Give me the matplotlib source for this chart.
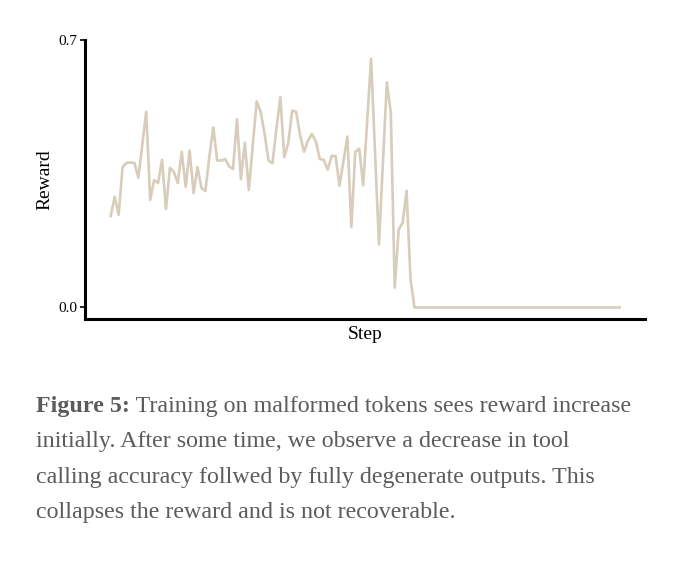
import matplotlib
matplotlib.use("Agg")
import matplotlib.pyplot as plt

# reward per step
rewardEarly = [0.240, 0.290, 0.243, 0.368, 0.379, 0.380, 0.379, 0.340, 0.426, 0.513,
               0.282, 0.334, 0.326, 0.387, 0.258, 0.366, 0.355, 0.326, 0.408, 0.316,
               0.411, 0.300, 0.368, 0.313, 0.305, 0.395, 0.472, 0.385, 0.385, 0.389,
               0.370, 0.363, 0.493, 0.336, 0.432, 0.308, 0.423, 0.540, 0.513, 0.455,
               0.385, 0.378, 0.468, 0.551, 0.394, 0.431, 0.516, 0.513, 0.452, 0.408,
               0.437, 0.455, 0.435, 0.389, 0.387, 0.361, 0.397, 0.397, 0.319, 0.384,
               0.448, 0.211, 0.408, 0.416, 0.320, 0.486, 0.652, 0.408, 0.165, 0.379,
               0.590, 0.511, 0.052, 0.204, 0.222, 0.306, 0.075]
rewardCollapsed = [0.0] * 53
reward = rewardEarly + rewardCollapsed
steps = list(range(len(reward)))

yTicks = [0.0, 0.7]
yTickLabels = ["0.0", "0.7"]

captionBold = "Figure 5:"
captionLines = [" Training on malformed tokens sees reward increase",
                "initially. After some time, we observe a decrease in tool",
                "calling accuracy follwed by fully degenerate outputs. This",
                "collapses the reward and is not recoverable."]

plt.rcParams['font.family'] = ['Liberation Serif', 'DejaVu Serif']

W, H = 680, 561
fig = plt.figure(figsize=(W / 100, H / 100), dpi=100)
ax = fig.add_axes([85.3 / W, 1 - 319.3 / H, (645 - 85.3) / W, (319.3 - 40) / H])

ax.plot(steps, reward, color="#d8ccbb", linewidth=1.9)
ax.set_xlim(-6.45, 135.45)
ax.set_ylim(-0.031, 0.701)

for side in ["top", "right"]:
    ax.spines[side].set_visible(False)
for side in ["left", "bottom"]:
    ax.spines[side].set_linewidth(2.2)
    ax.spines[side].set_color("black")

ax.set_xticks([])
ax.set_yticks(yTicks)
ax.set_yticklabels(yTickLabels, fontsize=11)
ax.tick_params(axis="y", length=3.5, width=1.2, pad=2)

ax.set_xlabel("Step", fontsize=14)
ax.xaxis.set_label_coords(0.5, -0.056)
ax.xaxis.label.set_verticalalignment("center")
ax.set_ylabel("Reward", fontsize=14)
ax.yaxis.set_label_coords(-0.072, 0.5)
ax.yaxis.label.set_verticalalignment("center")

# caption below the plot
capColor = "#5c5c5c"
capSize = 17.3
baselines = [411.7, 447.3, 482.8, 518.3]
xLeft = 36 / W
bold = fig.text(xLeft, 1 - baselines[0] / H, captionBold, fontsize=capSize,
                fontweight="bold", color=capColor, va="baseline", ha="left")
renderer = fig.canvas.get_renderer()
bb = bold.get_window_extent(renderer=renderer)
fig.text(bb.x1 / W, 1 - baselines[0] / H, captionLines[0], fontsize=capSize,
         color=capColor, va="baseline", ha="left")
for line, yb in zip(captionLines[1:], baselines[1:]):
    fig.text(xLeft, 1 - yb / H, line, fontsize=capSize, color=capColor,
             va="baseline", ha="left")

fig.savefig("out.png", dpi=100)
